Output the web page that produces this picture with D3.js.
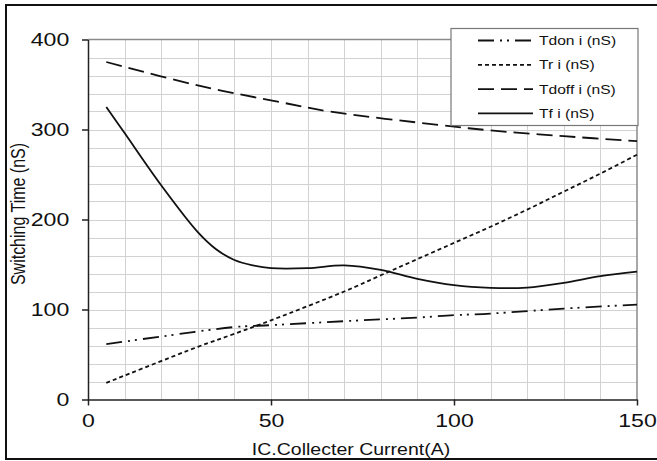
<!DOCTYPE html>
<html>
  <head>
    <meta charset="utf-8"/>
    <style>
      body { margin: 0; background: #fff; }
      text { font-family: "Liberation Sans", Arial, sans-serif; fill: #111; }
    </style>
  </head>
  <body>
    <script src="https://d3js.org/d3.v7.min.js"></script>
    <script type="text/javascript">
      var width = 657, height = 461;

      // values
      var tdonX  = [5, 20, 40, 50, 70, 80, 90, 100, 110, 130, 150];
      var tdonY  = [61.5, 70, 80.5, 82.6, 87, 89, 91, 93.7, 95.5, 101, 105.5];
      var trX    = [5, 30, 40, 50, 70, 80, 90, 100, 110, 120, 130, 140, 150];
      var trY    = [18.5, 58.5, 73, 88, 120, 138, 156, 174, 192, 211, 231, 251, 272];
      var tdoffX = [5, 30, 53, 66, 96, 110, 130, 150];
      var tdoffY = [375, 349, 330, 320, 305, 299, 292.6, 287];
      var tfX    = [5, 10, 20, 30, 35, 40, 45, 50, 60, 70, 80, 90, 100, 110, 120, 130, 140, 150];
      var tfY    = [325, 296, 238, 186, 167, 155, 149, 146, 146, 149, 144, 134, 127, 124, 124.3, 129.6, 137, 142];

      var seriesNames = ["Tdon i (nS)", "Tr i (nS)", "Tdoff i (nS)", "Tf i (nS)"];
      var xTicks = [0, 50, 100, 150];
      var yTicks = [0, 100, 200, 300, 400];

      var series = [
        {name: seriesNames[0], xs: tdonX, ys: tdonY, dash: "16,6,2,5,2,6"},
        {name: seriesNames[1], xs: trX, ys: trY, dash: "4,3"},
        {name: seriesNames[2], xs: tdoffX, ys: tdoffY, dash: "16,7"},
        {name: seriesNames[3], xs: tfX, ys: tfY, dash: null}
      ];

      var svg = d3.select("body")
                  .append("svg")
                  .attr("width", width)
                  .attr("height", height);

      var x = d3.scaleLinear().domain([0, 150]).range([88, 637]);
      var y = d3.scaleLinear().domain([0, 400]).range([399.5, 39.5]);

      // outer frame (right side runs off the picture)
      svg.append("rect")
         .attr("x", 6).attr("y", 5)
         .attr("width", 680).attr("height", 454)
         .attr("fill", "none")
         .attr("stroke", "#111")
         .attr("stroke-width", 2);

      // grid
      var grid = svg.append("g").attr("stroke", "#d2d2d2").attr("stroke-width", 1);
      grid.selectAll(".gv")
          .data(d3.range(10, 150, 10))
          .enter().append("line")
          .attr("x1", d => Math.round(x(d)) + 0.5).attr("x2", d => Math.round(x(d)) + 0.5)
          .attr("y1", y(400)).attr("y2", y(0));
      grid.selectAll(".gh")
          .data(d3.range(20, 400, 20))
          .enter().append("line")
          .attr("y1", d => Math.round(y(d)) + 0.5).attr("y2", d => Math.round(y(d)) + 0.5)
          .attr("x1", x(0)).attr("x2", x(150));

      // top and right edges of plot area
      svg.append("path")
         .attr("d", "M" + x(0) + "," + y(400) + "H" + x(150) + "V" + y(0))
         .attr("fill", "none")
         .attr("stroke", "#8a8a8a")
         .attr("stroke-width", 1.5);

      // axes
      var xAxis = svg.append("g")
         .attr("transform", "translate(0," + y(0) + ")")
         .call(d3.axisBottom(x).tickValues(xTicks).tickSize(6).tickSizeOuter(0).tickPadding(8));
      xAxis.selectAll("text")
         .attr("font-size", 18.5)
         .attr("transform", "scale(1.25,1)");

      var yAxis = svg.append("g")
         .attr("transform", "translate(" + x(0) + ",0)")
         .call(d3.axisLeft(y).tickValues(yTicks).tickSize(6).tickSizeOuter(0));
      yAxis.selectAll("text")
         .attr("font-size", 18.5)
         .attr("x", -15)
         .attr("transform", "scale(1.25,1)");

      svg.selectAll(".domain, .tick line").attr("stroke", "#222").attr("stroke-width", 1.5);
      svg.selectAll(".tick text").attr("fill", "#111").attr("font-family", "Liberation Sans, Arial, sans-serif");

      // axis titles
      svg.append("text")
         .attr("transform", "translate(351,455) scale(1.22,1)")
         .attr("text-anchor", "middle")
         .attr("font-size", 16)
         .text("IC.Collecter Current(A)");

      svg.append("text")
         .attr("transform", "translate(25,214) rotate(-90) scale(1,1.22)")
         .attr("text-anchor", "middle")
         .attr("font-size", 16)
         .text("Switching Time (nS)");

      // curves
      var line = d3.line()
                   .x(d => x(d[0]))
                   .y(d => y(d[1]))
                   .curve(d3.curveCatmullRom.alpha(0.5));

      series.forEach(function(s) {
        var pts = s.xs.map((v, i) => [v, s.ys[i]]);
        svg.append("path")
           .attr("d", line(pts))
           .attr("fill", "none")
           .attr("stroke", "#111")
           .attr("stroke-width", 1.8)
           .attr("stroke-dasharray", s.dash);
      });

      // legend
      var lg = svg.append("g");
      lg.append("rect")
        .attr("x", 451).attr("y", 28.5)
        .attr("width", 187).attr("height", 97)
        .attr("fill", "#fff")
        .attr("stroke", "#777")
        .attr("stroke-width", 1.2);

      series.forEach(function(s, i) {
        var ly = 40.5 + i * 24.3;
        lg.append("line")
          .attr("x1", 478).attr("x2", 533)
          .attr("y1", ly).attr("y2", ly)
          .attr("stroke", "#111")
          .attr("stroke-width", 1.8)
          .attr("stroke-dasharray", s.dash);
        lg.append("text")
          .attr("transform", "translate(539," + (ly + 4.5) + ") scale(1.2,1)")
          .attr("font-size", 13)
          .text(s.name);
      });
    </script>
  </body>
</html>
